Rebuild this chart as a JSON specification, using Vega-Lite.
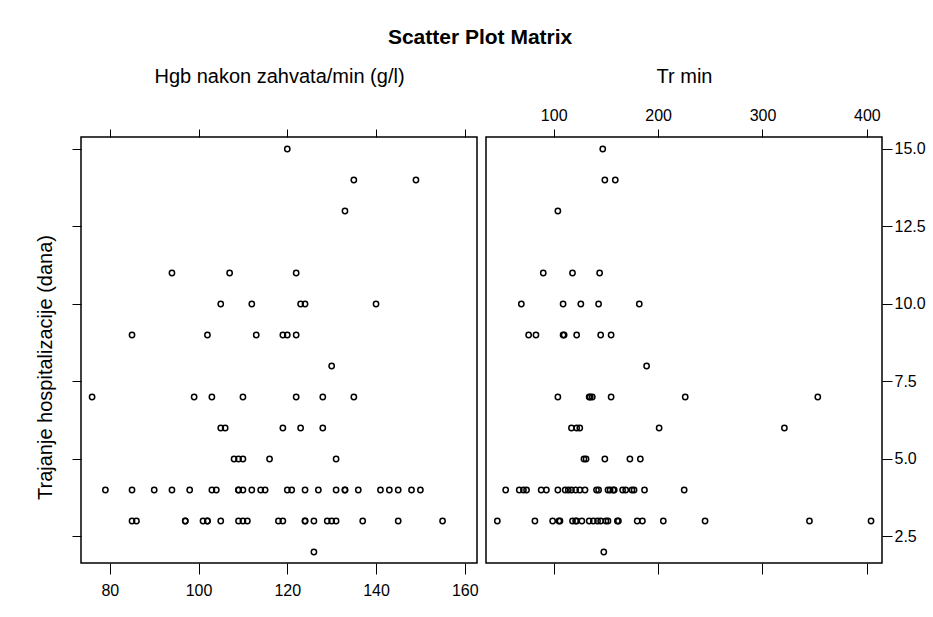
{
  "$schema": "https://vega.github.io/schema/vega-lite/v6.json",
  "background": "white",
  "padding": {"left": 34, "top": 27, "right": 10, "bottom": 10},
  "title": {"text": "Scatter Plot Matrix", "fontSize": 21, "font": "Liberation Sans", "fontWeight": "bold", "color": "black", "anchor": "middle", "baseline": "alphabetic", "offset": 0},
  "data": {"values": [
    {"v":"H","x":120,"y":15},
    {"v":"H","x":135,"y":14},{"v":"H","x":149,"y":14},
    {"v":"H","x":133,"y":13},
    {"v":"H","x":94,"y":11},{"v":"H","x":107,"y":11},{"v":"H","x":122,"y":11},
    {"v":"H","x":105,"y":10},{"v":"H","x":112,"y":10},{"v":"H","x":123,"y":10},{"v":"H","x":124,"y":10},{"v":"H","x":140,"y":10},
    {"v":"H","x":85,"y":9},{"v":"H","x":102,"y":9},{"v":"H","x":113,"y":9},{"v":"H","x":119,"y":9},{"v":"H","x":120,"y":9},{"v":"H","x":122,"y":9},
    {"v":"H","x":130,"y":8},
    {"v":"H","x":76,"y":7},{"v":"H","x":99,"y":7},{"v":"H","x":103,"y":7},{"v":"H","x":110,"y":7},{"v":"H","x":122,"y":7},{"v":"H","x":128,"y":7},{"v":"H","x":135,"y":7},
    {"v":"H","x":105,"y":6},{"v":"H","x":106,"y":6},{"v":"H","x":119,"y":6},{"v":"H","x":123,"y":6},{"v":"H","x":128,"y":6},
    {"v":"H","x":108,"y":5},{"v":"H","x":109,"y":5},{"v":"H","x":110,"y":5},{"v":"H","x":116,"y":5},{"v":"H","x":131,"y":5},
    {"v":"H","x":79,"y":4},{"v":"H","x":85,"y":4},{"v":"H","x":90,"y":4},{"v":"H","x":94,"y":4},{"v":"H","x":98,"y":4},{"v":"H","x":103,"y":4},{"v":"H","x":104,"y":4},{"v":"H","x":109,"y":4},{"v":"H","x":109,"y":4},{"v":"H","x":110,"y":4},{"v":"H","x":112,"y":4},{"v":"H","x":114,"y":4},{"v":"H","x":115,"y":4},{"v":"H","x":120,"y":4},{"v":"H","x":121,"y":4},{"v":"H","x":124,"y":4},{"v":"H","x":127,"y":4},{"v":"H","x":131,"y":4},{"v":"H","x":133,"y":4},{"v":"H","x":133,"y":4},{"v":"H","x":136,"y":4},{"v":"H","x":141,"y":4},{"v":"H","x":143,"y":4},{"v":"H","x":145,"y":4},{"v":"H","x":148,"y":4},{"v":"H","x":150,"y":4},
    {"v":"H","x":85,"y":3},{"v":"H","x":86,"y":3},{"v":"H","x":97,"y":3},{"v":"H","x":97,"y":3},{"v":"H","x":101,"y":3},{"v":"H","x":102,"y":3},{"v":"H","x":102,"y":3},{"v":"H","x":105,"y":3},{"v":"H","x":109,"y":3},{"v":"H","x":110,"y":3},{"v":"H","x":111,"y":3},{"v":"H","x":118,"y":3},{"v":"H","x":119,"y":3},{"v":"H","x":124,"y":3},{"v":"H","x":124,"y":3},{"v":"H","x":126,"y":3},{"v":"H","x":129,"y":3},{"v":"H","x":130,"y":3},{"v":"H","x":131,"y":3},{"v":"H","x":137,"y":3},{"v":"H","x":145,"y":3},{"v":"H","x":155,"y":3},
    {"v":"H","x":126,"y":2},
    {"v":"T","x":147,"y":15},
    {"v":"T","x":149,"y":14},{"v":"T","x":159,"y":14},
    {"v":"T","x":104,"y":13},
    {"v":"T","x":90,"y":11},{"v":"T","x":118,"y":11},{"v":"T","x":144,"y":11},
    {"v":"T","x":69,"y":10},{"v":"T","x":109,"y":10},{"v":"T","x":126,"y":10},{"v":"T","x":143,"y":10},{"v":"T","x":182,"y":10},
    {"v":"T","x":76,"y":9},{"v":"T","x":83,"y":9},{"v":"T","x":109,"y":9},{"v":"T","x":110,"y":9},{"v":"T","x":122,"y":9},{"v":"T","x":145,"y":9},{"v":"T","x":155,"y":9},
    {"v":"T","x":189,"y":8},
    {"v":"T","x":104,"y":7},{"v":"T","x":134,"y":7},{"v":"T","x":135,"y":7},{"v":"T","x":137,"y":7},{"v":"T","x":155,"y":7},{"v":"T","x":226,"y":7},{"v":"T","x":353,"y":7},
    {"v":"T","x":117,"y":6},{"v":"T","x":122,"y":6},{"v":"T","x":125,"y":6},{"v":"T","x":201,"y":6},{"v":"T","x":321,"y":6},
    {"v":"T","x":129,"y":5},{"v":"T","x":131,"y":5},{"v":"T","x":149,"y":5},{"v":"T","x":173,"y":5},{"v":"T","x":183,"y":5},
    {"v":"T","x":54,"y":4},{"v":"T","x":67,"y":4},{"v":"T","x":71,"y":4},{"v":"T","x":74,"y":4},{"v":"T","x":88,"y":4},{"v":"T","x":93,"y":4},{"v":"T","x":104,"y":4},{"v":"T","x":111,"y":4},{"v":"T","x":114,"y":4},{"v":"T","x":117,"y":4},{"v":"T","x":121,"y":4},{"v":"T","x":125,"y":4},{"v":"T","x":130,"y":4},{"v":"T","x":141,"y":4},{"v":"T","x":143,"y":4},{"v":"T","x":152,"y":4},{"v":"T","x":154,"y":4},{"v":"T","x":157,"y":4},{"v":"T","x":158,"y":4},{"v":"T","x":166,"y":4},{"v":"T","x":169,"y":4},{"v":"T","x":175,"y":4},{"v":"T","x":177,"y":4},{"v":"T","x":187,"y":4},{"v":"T","x":225,"y":4},
    {"v":"T","x":46,"y":3},{"v":"T","x":82,"y":3},{"v":"T","x":99,"y":3},{"v":"T","x":105,"y":3},{"v":"T","x":106,"y":3},{"v":"T","x":118,"y":3},{"v":"T","x":121,"y":3},{"v":"T","x":122,"y":3},{"v":"T","x":127,"y":3},{"v":"T","x":134,"y":3},{"v":"T","x":138,"y":3},{"v":"T","x":142,"y":3},{"v":"T","x":145,"y":3},{"v":"T","x":150,"y":3},{"v":"T","x":152,"y":3},{"v":"T","x":161,"y":3},{"v":"T","x":162,"y":3},{"v":"T","x":180,"y":3},{"v":"T","x":185,"y":3},{"v":"T","x":205,"y":3},{"v":"T","x":245,"y":3},{"v":"T","x":345,"y":3},{"v":"T","x":404,"y":3},
    {"v":"T","x":148,"y":2}
  ]},
  "spacing": 6,
  "resolve": {"scale": {"x": "independent", "y": "independent"}},
  "hconcat": [
    {
      "width": 396,
      "height": 426,
      "transform": [{"filter": "datum.v == 'H'"}],
      "layer": [
        {
          "mark": {"type": "point", "shape": "circle", "size": 28, "strokeWidth": 1.5, "color": "black", "filled": false, "opacity": 1},
          "encoding": {
            "x": {"field": "x", "type": "quantitative", "scale": {"domain": [73.5, 162.76], "nice": false, "zero": false},
                  "axis": {"orient": "bottom", "values": [80, 100, 120, 140, 160], "tickSize": 11, "labelPadding": 8, "title": null}},
            "y": {"field": "y", "type": "quantitative", "scale": {"domain": [1.645, 15.387], "nice": false, "zero": false},
                  "axis": {"orient": "left", "values": [2.5, 5, 7.5, 10, 12.5, 15], "labels": false, "tickSize": 9,
                           "title": "Trajanje hospitalizacije (dana)", "titleX": -30, "titleY": 230, "titleAngle": -90, "titleBaseline": "alphabetic", "titleAlign": "center"}}
          }
        },
        {
          "mark": {"type": "point", "opacity": 0},
          "encoding": {
            "x": {"field": "x", "type": "quantitative",
                  "axis": {"orient": "top", "values": [80, 100, 120, 140, 160], "tickSize": 8, "labels": false,
                           "title": "Hgb nakon zahvata/min (g/l)", "titleY": -55, "titleBaseline": "alphabetic"}}
          }
        }
      ]
    },
    {
      "width": 396,
      "height": 426,
      "transform": [{"filter": "datum.v == 'T'"}],
      "layer": [
        {
          "mark": {"type": "point", "shape": "circle", "size": 28, "strokeWidth": 1.5, "color": "black", "filled": false, "opacity": 1},
          "encoding": {
            "x": {"field": "x", "type": "quantitative", "scale": {"domain": [35.15, 414.5], "nice": false, "zero": false},
                  "axis": {"orient": "top", "values": [100, 200, 300, 400], "tickSize": 8, "labelPadding": 6,
                           "title": "Tr min", "titleY": -55, "titleBaseline": "alphabetic"}},
            "y": {"field": "y", "type": "quantitative", "scale": {"domain": [1.645, 15.387], "nice": false, "zero": false},
                  "axis": {"orient": "right", "values": [2.5, 5, 7.5, 10, 12.5, 15], "format": ".1f", "tickSize": 10, "labelPadding": 2, "title": null}}
          }
        },
        {
          "mark": {"type": "point", "opacity": 0},
          "encoding": {
            "x": {"field": "x", "type": "quantitative",
                  "axis": {"orient": "bottom", "values": [100, 200, 300, 400], "tickSize": 11, "labels": false, "title": null}}
          }
        }
      ]
    }
  ],
  "config": {
    "font": "Liberation Sans",
    "view": {"stroke": "black", "strokeWidth": 1.5},
    "axis": {"domain": false, "grid": false, "ticks": true, "tickColor": "black", "tickWidth": 1, "labelColor": "black", "labelFont": "Liberation Sans", "labelFontSize": 16, "labelFlush": false, "titleFont": "Liberation Sans", "titleFontSize": 20, "titleFontWeight": "normal", "titleColor": "black"}
  }
}
